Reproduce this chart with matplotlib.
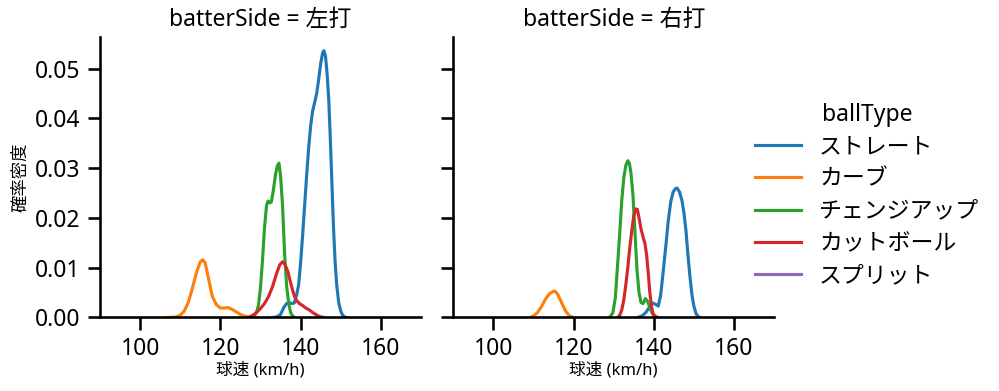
import matplotlib
matplotlib.use("Agg")
import matplotlib.pyplot as plt
from matplotlib.lines import Line2D

plt.rcParams['font.family'] = ['Noto Sans', 'Noto Sans CJK JP', 'DejaVu Sans']

panels = ["左打", "右打"]
ball_types = ["ストレート", "カーブ", "チェンジアップ", "カットボール", "スプリット"]
colors = ["#1f77b4", "#ff7f0e", "#2ca02c", "#d62728", "#9467bd"]

# ---- 左打 ----
left_straight_x = [133.0, 134.0, 135.0, 135.8, 136.5, 137.2, 137.8, 138.4, 139.0, 139.5, 140.0, 140.5,
                   141.0, 141.5, 142.0, 142.5, 143.0, 143.5, 144.0, 144.5, 145.0, 145.5, 145.8, 146.2,
                   146.6, 147.0, 147.4, 147.8, 148.2, 148.6, 149.0, 149.5, 150.0, 150.5, 151.0, 151.5]
left_straight_y = [0.0, 0.0001, 0.0006, 0.0020, 0.0028, 0.0030, 0.0028, 0.0029, 0.0045, 0.0065, 0.0110, 0.0165,
                   0.0225, 0.0285, 0.0340, 0.0385, 0.0415, 0.0432, 0.0450, 0.0478, 0.0510, 0.0532, 0.0536, 0.0525,
                   0.0490, 0.0440, 0.0360, 0.0270, 0.0180, 0.0112, 0.0065, 0.0030, 0.0013, 0.0004, 0.0001, 0.0]

left_curve_x = [107.0, 108.0, 109.0, 110.0, 111.0, 112.0, 113.0, 114.0, 115.0, 115.6, 116.2, 117.0,
                118.0, 119.0, 120.0, 121.0, 121.9, 123.0, 124.0, 125.0, 126.0, 127.0, 128.0, 129.0]
left_curve_y = [0.00001, 0.00003, 0.00013, 0.00045, 0.0013, 0.0030, 0.0058, 0.0089, 0.0112, 0.0116, 0.0110, 0.0080,
                0.0042, 0.0026, 0.0019, 0.0019, 0.0020, 0.0016, 0.0011, 0.0006, 0.0003, 0.0001, 0.00003, 0.0]

left_change_x = [127.5, 128.3, 129.0, 129.5, 130.0, 130.5, 131.0, 131.5, 131.9, 132.3, 132.7, 133.2,
                 133.7, 134.2, 134.6, 135.0, 135.5, 136.0, 136.5, 137.0, 137.5, 138.0, 138.5]
left_change_y = [0.0, 0.0003, 0.0010, 0.0025, 0.0060, 0.0115, 0.0180, 0.0225, 0.0234, 0.0230, 0.0232, 0.0255,
                 0.0285, 0.0305, 0.0310, 0.0285, 0.0225, 0.0130, 0.0065, 0.0030, 0.0010, 0.0003, 0.0]

left_cut_x = [127.0, 128.0, 129.0, 130.0, 131.0, 132.0, 133.0, 134.0, 134.8, 135.5, 136.0, 136.8,
              137.5, 138.0, 138.5, 139.0, 139.7, 140.5, 141.3, 142.2, 143.0, 143.8, 144.7, 145.5, 146.0]
left_cut_y = [0.0, 0.0004, 0.0010, 0.0018, 0.0028, 0.0042, 0.0062, 0.0088, 0.0106, 0.0112, 0.0108, 0.0093,
              0.0070, 0.0055, 0.0042, 0.0034, 0.0028, 0.0024, 0.0019, 0.0015, 0.0010, 0.0006, 0.0002, 0.00005, 0.0]

# ---- 右打 ----
right_straight_x = [136.0, 137.0, 138.0, 139.0, 139.8, 140.5, 141.1, 141.7, 142.3, 143.0, 143.6, 144.2,
                    144.8, 145.4, 145.8, 146.4, 147.0, 147.5, 148.0, 148.5, 149.0, 149.5, 150.0, 150.5,
                    151.0, 151.5]
right_straight_y = [0.0, 0.0003, 0.0010, 0.0022, 0.0029, 0.0026, 0.0023, 0.0045, 0.0090, 0.0145, 0.0195, 0.0232,
                    0.0252, 0.0259, 0.0260, 0.0252, 0.0235, 0.0210, 0.0175, 0.0125, 0.0082, 0.0045, 0.0022, 0.0008,
                    0.0002, 0.0]

right_curve_x = [109.0, 110.0, 111.0, 112.0, 113.0, 114.0, 115.0, 115.5, 116.0, 117.0, 118.0, 119.0, 120.0]
right_curve_y = [0.0, 0.0003, 0.0010, 0.0022, 0.0037, 0.0048, 0.0053, 0.0052, 0.0047, 0.0030, 0.0013, 0.0003, 0.0]

right_change_x = [129.0, 129.8, 130.4, 131.0, 131.5, 132.0, 132.5, 133.0, 133.5, 133.9, 134.3, 134.8,
                  135.3, 135.8, 136.3, 136.8, 137.3, 137.9, 138.4, 139.0, 139.5, 140.0, 140.8]
right_change_y = [0.0, 0.0010, 0.0040, 0.0110, 0.0170, 0.0235, 0.0280, 0.0305, 0.0315, 0.0310, 0.0290, 0.0245,
                  0.0170, 0.0095, 0.0050, 0.0030, 0.0028, 0.0038, 0.0033, 0.0020, 0.0010, 0.0004, 0.0]

right_cut_x = [131.0, 131.5, 132.0, 132.5, 133.0, 133.5, 134.0, 134.5, 135.0, 135.5, 135.9, 136.3,
               136.8, 137.3, 137.8, 138.2, 138.6, 139.0, 139.4, 139.8, 140.3, 141.0]
right_cut_y = [0.0, 0.0005, 0.0015, 0.0035, 0.0065, 0.0100, 0.0140, 0.0175, 0.0205, 0.0218, 0.0217, 0.0200,
               0.0178, 0.0162, 0.0148, 0.0125, 0.0090, 0.0050, 0.0022, 0.0008, 0.0002, 0.0]

series = {
    "左打": {"ストレート": (left_straight_x, left_straight_y),
             "カーブ": (left_curve_x, left_curve_y),
             "チェンジアップ": (left_change_x, left_change_y),
             "カットボール": (left_cut_x, left_cut_y)},
    "右打": {"ストレート": (right_straight_x, right_straight_y),
             "カーブ": (right_curve_x, right_curve_y),
             "チェンジアップ": (right_change_x, right_change_y),
             "カットボール": (right_cut_x, right_cut_y)},
}

xticks = [100, 120, 140, 160]
yticks = [0.00, 0.01, 0.02, 0.03, 0.04, 0.05]

fig = plt.figure(figsize=(9.99, 3.91), dpi=100)
ax1 = fig.add_axes([0.1001, 0.188, 0.3213, 0.718])
ax2 = fig.add_axes([0.4537, 0.188, 0.3213, 0.718], sharey=ax1)
axes = [ax1, ax2]

for ax, side in zip(axes, panels):
    for bt, c in zip(ball_types, colors):
        if bt in series[side]:
            xs, ys = series[side][bt]
            ax.plot(xs, ys, color=c, lw=2.25, solid_joinstyle='round')
    ax.set_xlim(90, 170)
    ax.set_ylim(0, 0.0564)
    ax.set_xticks(xticks)
    ax.set_yticks(yticks)
    ax.set_title(f"batterSide = {side}", fontsize=16.5, pad=8)
    ax.set_xlabel("球速 (km/h)", fontsize=12, labelpad=1)
    for s in ["top", "right"]:
        ax.spines[s].set_visible(False)
    for s in ["left", "bottom"]:
        ax.spines[s].set_linewidth(1.875)
    ax.tick_params(axis='both', labelsize=16.5, width=1.875, length=9, pad=5)

ax1.set_yticklabels([f"{v:.2f}" for v in yticks])
ax1.set_ylabel("確率密度", fontsize=12.5)
ax2.tick_params(axis='y', labelleft=False)

handles = [Line2D([], [], color=c, lw=2.25) for c in colors]
leg = fig.legend(handles, ball_types, title="ballType", loc="center left",
                 bbox_to_anchor=(0.735, 0.5), frameon=False, fontsize=16.5,
                 title_fontsize=16.5, handlelength=2.0, labelspacing=0.36)

fig.savefig("out.png", dpi=100)
